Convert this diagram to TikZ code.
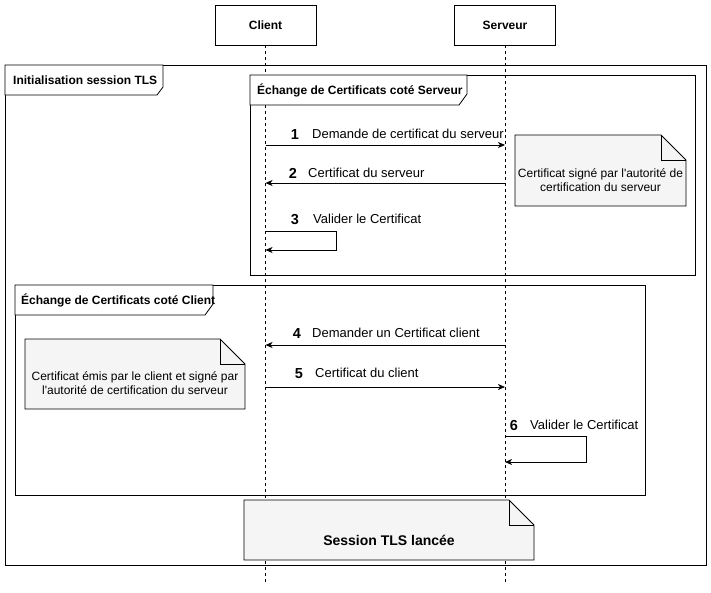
\documentclass[tikz,border=0pt]{standalone}
\usepackage{fontspec}
\setmainfont{Liberation Sans}
\usetikzlibrary{arrows.meta}
\definecolor{notefill}{HTML}{F5F5F5}
\begin{document}
\begin{tikzpicture}[x=1pt,y=-1pt,
  actor/.style={draw, line width=0.8pt, minimum width=101pt, minimum height=40pt, font=\fontsize{12}{14}\bfseries\selectfont, inner sep=0pt},
  lifeline/.style={line width=0.8pt, dash pattern=on 3pt off 3pt},
  framebox/.style={draw, line width=0.8pt},
  tab/.style={draw, fill=white, line width=0.8pt},
  tabtext/.style={anchor=west, font=\fontsize{12}{14}\bfseries\selectfont, inner sep=0pt, text height=8.6pt, text depth=0pt},
  msg/.style={line width=0.8pt, -{Stealth[length=7pt,width=6pt,inset=2pt]}},
  num/.style={font=\fontsize{14.5}{16}\bfseries\selectfont, inner sep=0pt, text height=10.4pt, text depth=0pt},
  msgtext/.style={anchor=west, font=\fontsize{13}{15}\selectfont, inner sep=0pt, text height=9.3pt, text depth=0pt},
  notetext/.style={align=center, font=\fontsize{12}{14}\selectfont, inner sep=0pt},
  note/.style={draw, fill=notefill, line width=0.8pt},
]
\useasboundingbox (0,0) rectangle (711,592);

% actors
\node[actor] (client) at (265.5,25) {Client};
\node[actor] (serveur) at (505,25) {Serveur};
\coordinate (cend) at (265.5,582);
\coordinate (send) at (505,582);
\draw[lifeline] (client.south) -- (cend);
\draw[lifeline] (serveur.south) -- (send);

% outer frame
\node[framebox, anchor=north west, minimum width=701pt, minimum height=500pt] (outer) at (5,65) {};
\draw[tab] (5,65) -- (163,65) -- (163,87) -- (157,95) -- (5,95) -- cycle;
\node[tabtext] (outerlbl) at (13,80) {Initialisation session TLS};

% frame 1
\node[framebox, anchor=north west, minimum width=445pt, minimum height=200pt] (frameA) at (250,75) {};
\draw[tab] (250,75) -- (467,75) -- (467,94) -- (459,105) -- (250,105) -- cycle;
\node[tabtext] (frameAlbl) at (257,90) {Échange de Certificats coté Serveur};

% frame 2
\node[framebox, anchor=north west, minimum width=630pt, minimum height=210pt] (frameB) at (15,285) {};
\draw[tab] (15,285) -- (213,285) -- (213,304) -- (205,315) -- (15,315) -- cycle;
\node[tabtext] (frameBlbl) at (21,300) {Échange de Certificats coté Client};

% note 1
\draw[note] (515,135) -- (661,135) -- (686,160) -- (686,206) -- (515,206) -- cycle;
\draw[line width=0.8pt] (661,135) -- (661,160) -- (686,160);
\node[notetext] (note1) at (600.5,180) {Certificat signé par l\textquotesingle autorité de\\certification du serveur};

% note 2
\draw[note] (25,339) -- (220,339) -- (245,364) -- (245,409) -- (25,409) -- cycle;
\draw[line width=0.8pt] (220,339) -- (220,364) -- (245,364);
\node[notetext] (note2) at (135,383.5) {Certificat émis par le client et signé par\\l\textquotesingle autorité de certification du serveur};

% note 3
\draw[note] (244,500) -- (509,500) -- (534,525) -- (534,560) -- (244,560) -- cycle;
\draw[line width=0.8pt] (509,500) -- (509,525) -- (534,525);
\node[font=\fontsize{14}{16}\bfseries\selectfont, inner sep=0pt] (note3) at (389,540) {Session TLS lancée};

% message endpoints
\coordinate (m1c) at (265.5,145); \coordinate (m1s) at (505,145);
\coordinate (m2c) at (265.5,183); \coordinate (m2s) at (505,183);
\coordinate (m3a) at (265.5,231); \coordinate (m3b) at (265.5,250);
\coordinate (m4c) at (265.5,345); \coordinate (m4s) at (505,345);
\coordinate (m5c) at (265.5,387); \coordinate (m5s) at (505,387);
\coordinate (m6a) at (505,436); \coordinate (m6b) at (505,462);

\draw[msg] (m1c) -- (m1s);
\draw[msg] (m2s) -- (m2c);
\draw[msg] (m3a) -- ++(70.5,0) |- (m3b);
\draw[msg] (m4s) -- (m4c);
\draw[msg] (m5c) -- (m5s);
\draw[msg] (m6a) -- ++(81,0) |- (m6b);

% labels
\node[num] (n1) at (295,134) {1};
\node[msgtext] (t1) at (312,134) {Demande de certificat du serveur};
\node[num] (n2) at (293,173) {2};
\node[msgtext] (t2) at (308,173) {Certificat du serveur};
\node[num] (n3) at (295,219) {3};
\node[msgtext] (t3) at (313,219) {Valider le Certificat};
\node[num] (n4) at (297,333) {4};
\node[msgtext] (t4) at (312,333) {Demander un Certificat client};
\node[num] (n5) at (299,373) {5};
\node[msgtext] (t5) at (315,373) {Certificat du client};
\node[num] (n6) at (514,425) {6};
\node[msgtext] (t6) at (530,425) {Valider le Certificat};
\end{tikzpicture}
\end{document}
